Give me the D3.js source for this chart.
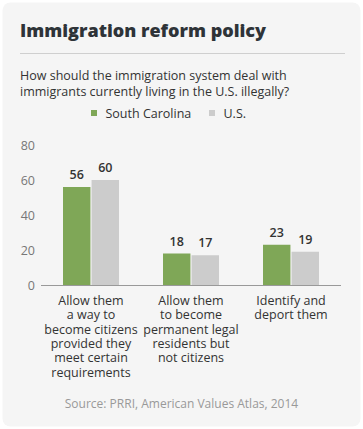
<!DOCTYPE html>
<html><head><meta charset="utf-8">
<script src="https://cdn.jsdelivr.net/npm/d3@7"></script>
<style>
html,body{margin:0;padding:0;background:#fff;}
svg{display:block;}
</style></head>
<body>
<script>
const categories = [
  ["Allow them","a way to","become citizens","provided they","meet certain","requirements"],
  ["Allow them","to become","permanent legal","residents but","not citizens"],
  ["Identify and","deport them"]
];
const categoryKeys = ["citizens","residents","deport"];
const seriesNames = ["South Carolina","U.S."];
const southCarolina = [56, 18, 23];
const us = [60, 17, 19];
const yTicks = [0, 20, 40, 60, 80];
const colors = ["#7fa757", "#cccccc"];

const W = 363, H = 429;
const font = "'Open Sans', sans-serif";
const svg = d3.select("body").append("svg").attr("width", W).attr("height", H);

svg.append("rect").attr("x", 2.5).attr("y", 2.5).attr("width", W - 5).attr("height", H - 5)
  .attr("rx", 8).attr("fill", "#f5f5f5");

svg.append("text").attr("x", 20).attr("y", 37).text("Immigration reform policy")
  .attr("font-family", font).attr("font-size", 18).attr("font-weight", 800).attr("fill", "#2e3338");
svg.append("line").attr("x1", 20).attr("x2", 345).attr("y1", 53.5).attr("y2", 53.5)
  .attr("stroke", "#cfcfcf").attr("stroke-width", 1);

const sub = ["How should the immigration system deal with", "immigrants currently living in the U.S. illegally?"];
sub.forEach((s, i) => svg.append("text").attr("x", 20).attr("y", 80 + i * 15.5).text(s)
  .attr("font-family", font).attr("font-size", 12.5).attr("fill", "#333"));

// legend
const legend = svg.append("g").attr("font-family", font).attr("font-size", 12.5).attr("fill", "#333");
const legX = [91, 209];
seriesNames.forEach((n, i) => {
  legend.append("rect").attr("x", legX[i]).attr("y", 110).attr("width", 6).attr("height", 6).attr("fill", colors[i]);
  legend.append("text").attr("x", legX[i] + 14.5).attr("y", 118).text(n);
});

const x0 = d3.scaleBand().domain(categoryKeys).range([41, 341]).paddingInner(0).paddingOuter(0);
const x1 = d3.scaleBand().domain(seriesNames).range([0, 56]).paddingInner(0.04);
const y = d3.scaleLinear().domain([0, 80]).range([285, 145]);

const yAxis = svg.append("g").attr("transform", "translate(35,0)")
  .call(d3.axisLeft(y).tickValues(yTicks).tickSize(0).tickPadding(0));
yAxis.select(".domain").remove();
yAxis.selectAll("text").attr("font-family", font).attr("font-size", 12.5).attr("fill", "#777");

const data = categoryKeys.map((k, i) => ({ key: k, vals: [southCarolina[i], us[i]] }));
const groups = svg.append("g").selectAll("g").data(data).join("g")
  .attr("transform", d => `translate(${x0(d.key) + x0.bandwidth() / 2 - 28},0)`);
groups.selectAll("rect").data(d => d.vals.map((v, j) => ({ s: seriesNames[j], v, j })))
  .join("rect")
  .attr("x", d => x1(d.s)).attr("width", x1.bandwidth())
  .attr("y", d => y(d.v)).attr("height", d => y(0) - y(d.v))
  .attr("fill", d => colors[d.j]);
groups.selectAll("text.val").data(d => d.vals.map((v, j) => ({ s: seriesNames[j], v, j })))
  .join("text").attr("class", "val")
  .attr("x", d => x1(d.s) + x1.bandwidth() / 2).attr("y", d => y(d.v) - 8)
  .attr("text-anchor", "middle").text(d => d.v)
  .attr("font-family", font).attr("font-size", 12.5).attr("font-weight", 600).attr("fill", "#333");

svg.append("line").attr("x1", 41).attr("x2", 341).attr("y1", y(0) + 0.5).attr("y2", y(0) + 0.5)
  .attr("stroke", "#999").attr("stroke-width", 1);

// x labels
categoryKeys.forEach((k, i) => {
  const t = svg.append("text").attr("text-anchor", "middle")
    .attr("font-family", font).attr("font-size", 12.5).attr("fill", "#333");
  categories[i].forEach((line, li) => t.append("tspan")
    .attr("x", x0(k) + x0.bandwidth() / 2).attr("y", 305 + li * 14.3).text(line));
});

svg.append("text").attr("x", 181.5).attr("y", 408).attr("text-anchor", "middle")
  .text("Source: PRRI, American Values Atlas, 2014")
  .attr("font-family", font).attr("font-size", 12).attr("fill", "#999");
</script>
</body></html>
